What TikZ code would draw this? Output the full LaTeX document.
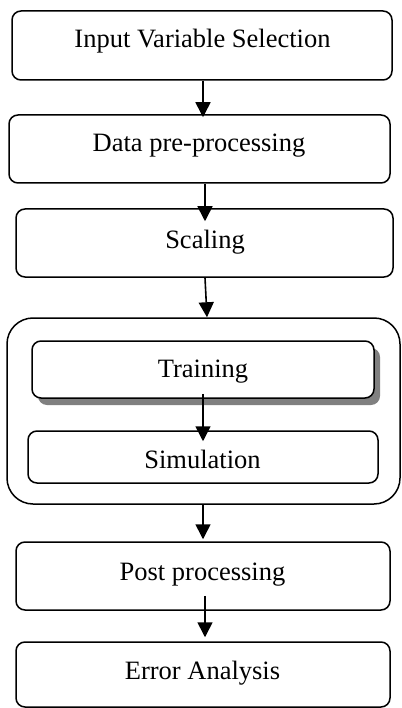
\documentclass[tikz,border=0pt]{standalone}
\usepackage{fontspec}
\setmainfont{Liberation Serif}
\usetikzlibrary{arrows.meta,shadows}
\begin{document}
\begin{tikzpicture}[x=1pt,y=-1pt,
  box/.style={draw,line width=1.5pt,rounded corners=9pt,inner sep=0pt,fill=white},
  lbl/.style={anchor=base,inner sep=0pt,font=\fontsize{26.5}{30}\selectfont},
  arr/.style={line width=1.6pt,-{Triangle[width=15pt,length=15pt]}}]
\useasboundingbox (0,0) rectangle (401,708);
% outer container
\node[box,rounded corners=26pt,minimum width=393pt,minimum height=186pt] (outer) at (203.5,411) {};
% boxes
\node[box,minimum width=380pt,minimum height=69pt] (b1) at (202,45.5) {};
\node[box,minimum width=381pt,minimum height=68pt] (b2) at (199.5,149) {};
\node[box,minimum width=377pt,minimum height=68pt] (b3) at (204.5,243) {};
\node[box,minimum width=342pt,minimum height=57pt,
  drop shadow={shadow xshift=6pt,shadow yshift=-7pt,fill=black!50,opacity=1}] (train) at (203,369.5) {};
\node[box,minimum width=350pt,minimum height=52pt] (sim) at (203,457) {};
\node[box,minimum width=374pt,minimum height=68pt] (post) at (203,576) {};
\node[box,minimum width=374pt,minimum height=65pt] (err) at (203,674.5) {};
% texts
\node[lbl] (t1) at (202.5,48) {Input Variable Selection};
\node[lbl] (t2) at (199,152) {Data pre-processing};
\node[lbl] (t3) at (205,248) {Scaling};
\node[lbl] (t4) at (203,377) {Training};
\node[lbl] (t5) at (202.5,468) {Simulation};
\node[lbl] (t6) at (202.5,580) {Post processing};
\node[lbl] (t7) at (202.5,679) {Error Analysis};
% arrows
\draw[arr] ([xshift=1pt]b1.south) -- ([xshift=3.5pt,yshift=-3pt]b2.north);
\draw[arr] ([xshift=5.5pt]b2.south) -- ([xshift=0.5pt,yshift=-13pt]b3.north);
\draw[arr] ([xshift=0.5pt]b3.south) -- ([xshift=3.5pt]outer.north);
\draw[arr] ([yshift=5pt]train.south) -- ([yshift=-11pt]sim.north);
\draw[arr] ([xshift=-0.5pt]outer.south) -- ([yshift=2pt]post.north);
\draw[arr] ([xshift=2pt,yshift=15pt]post.south) -- ([xshift=2pt,yshift=4pt]err.north);
\end{tikzpicture}
\end{document}
